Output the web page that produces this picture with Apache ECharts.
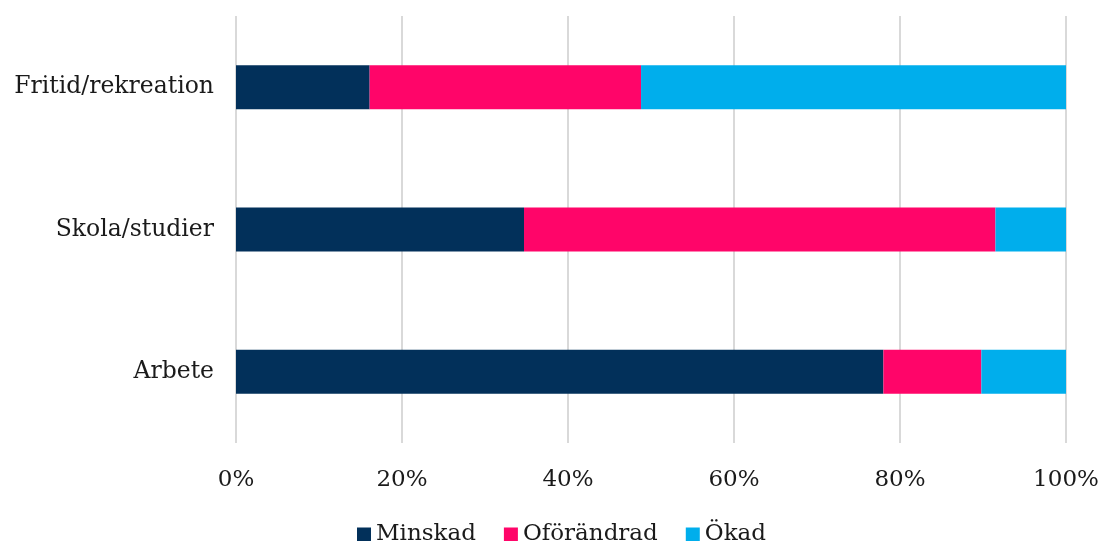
<!DOCTYPE html>
<html>
<head>
	<meta charset="UTF-8">
	<title></title>
	<style>html,body{margin:0;padding:0;background:#fff;}</style>
</head>
<body>
	<div id="chart" style="width:1100px;height:541px;"></div>
</body>
<script src="https://cdn.jsdelivr.net/npm/echarts@6/dist/echarts.min.js"></script>
<script>
var categories = ['Arbete', 'Skola/studier', 'Fritid/rekreation'];
var minskad = [78.0, 34.7, 16.1];
var oforandrad = [11.8, 56.8, 32.7];
var okad = [10.2, 8.5, 51.2];

var font = 'DejaVu Serif';
var chart = echarts.init(document.getElementById('chart'));

function bar(name, data, color) {
    return {
        name: name,
        type: 'bar',
        stack: 'total',
        data: data,
        barWidth: 44,
        itemStyle: { color: color },
        emphasis: { disabled: true }
    };
}

var option = {
    animation: false,
    textStyle: { fontFamily: font },
    grid: { left: 236, right: 34, top: 16, bottom: 98, outerBoundsMode: 'none' },
    xAxis: {
        type: 'value',
        min: 0,
        max: 100,
        interval: 20,
        axisLabel: { formatter: '{value}%', color: '#1a1a1a', fontSize: 23, margin: 26, fontFamily: font },
        axisLine: { show: false },
        axisTick: { show: false },
        splitLine: { lineStyle: { color: '#d9d9d9', width: 2 } }
    },
    yAxis: {
        type: 'category',
        data: categories,
        axisLabel: { color: '#1a1a1a', fontSize: 23.5, margin: 22, fontFamily: font },
        axisLine: { show: false },
        axisTick: { show: false }
    },
    legend: {
        top: 518,
        left: 352,
        itemWidth: 14,
        itemHeight: 14,
        itemGap: 28,
        icon: 'rect',
        textStyle: { color: '#1a1a1a', fontSize: 23, fontFamily: font },
        data: ['Minskad', 'Oförändrad', 'Ökad']
    },
    series: [
        bar('Minskad', minskad, '#02305A'),
        bar('Oförändrad', oforandrad, '#FF0569'),
        bar('Ökad', okad, '#00AEEC')
    ]
};

chart.setOption(option);
</script>
</html>
